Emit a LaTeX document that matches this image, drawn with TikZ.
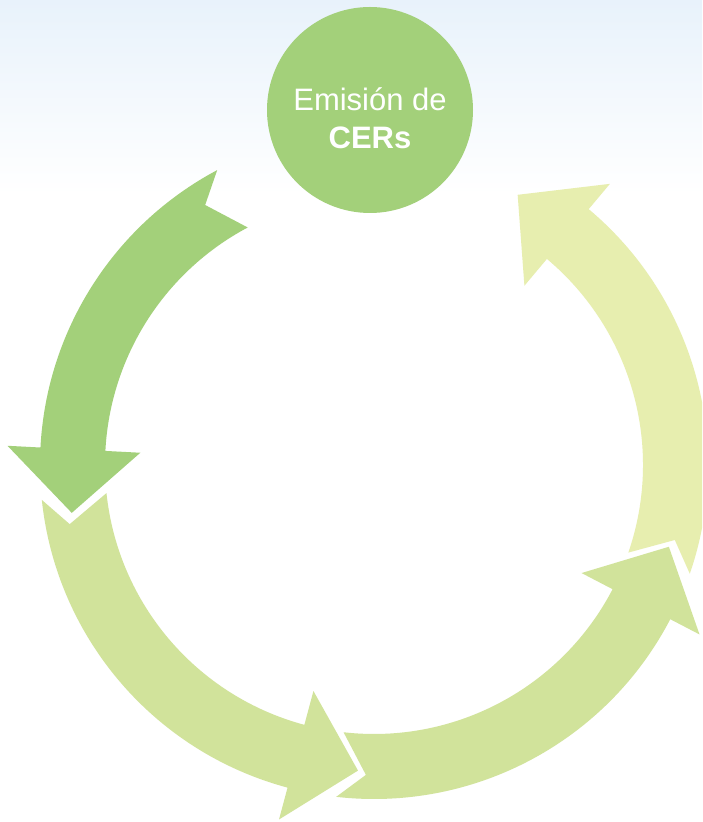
\documentclass[tikz,border=0pt]{standalone}
\usepackage{fontspec}
\setmainfont{Liberation Sans}
\usepackage{tikz}
\definecolor{cersgreen}{HTML}{A3D07A}
\definecolor{ringlight}{HTML}{D1E39B}
\definecolor{ringpale}{HTML}{E7EEAF}
\definecolor{skytop}{HTML}{E8F2FB}

\begin{document}
\begin{tikzpicture}[x=1pt,y=1pt,
disc/.style={circle,fill=cersgreen,minimum size=206pt,inner sep=0pt},
disctext/.style={text=white,align=center,font=\fontsize{31}{38}\selectfont}]
\useasboundingbox (0,0) rectangle (702,822);
\clip (0,0) rectangle (702,822);

%background, light sky at the top
\fill[white] (0,0) rectangle (702,822);
\shade[top color=skytop,bottom color=white] (0,627) rectangle (702,822);

%centre and radii of the ring of arrows
\coordinate (ring) at (374,357);
\def\rin{269}
\def\rout{334}

%one arrow per entry: colour/tail angle/head angle
\foreach \col/\a/\b in {cersgreen/118/177,ringlight/186/255,ringlight/263.5/332.5,ringpale/341/410}{
	\fill[\col,shift={(ring)}] (\a:\rout) arc[start angle=\a,end angle=\b,radius=\rout]
		-- (\b:367) -- ({\b+12}:306) -- (\b:234) -- (\b:\rin)
		arc[start angle=\b,end angle=\a,radius=\rin] -- ({\a+5}:310) -- cycle;
}

%the disc on top
\node[disc] (cers) at (370,712) {};
\node[disctext] (cerslabel) at ([yshift=-8pt]cers.center) {Emisión de\\\textbf{CERs}};
\end{tikzpicture}
\end{document}
